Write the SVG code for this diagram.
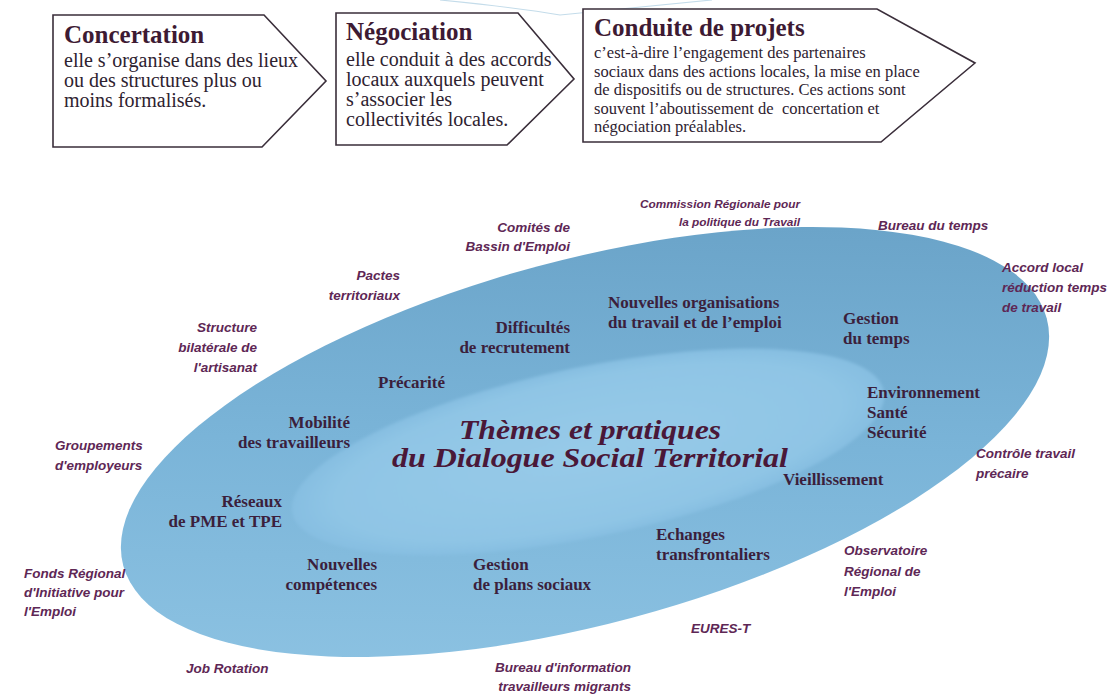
<svg xmlns="http://www.w3.org/2000/svg" width="1116" height="695" viewBox="0 0 1116 695">
<defs>
<style>
.box{fill:#fff;stroke:#3a2e3a;stroke-width:1.6;stroke-linejoin:miter}
.bt{font-family:"Liberation Serif",serif;font-weight:bold;font-size:25px;fill:#3d1a33}
.bb{font-family:"Liberation Serif",serif;font-size:20px;fill:#2e2230}
.bb3{font-family:"Liberation Serif",serif;font-size:16.5px;fill:#2e2230}
.th{font-family:"Liberation Serif",serif;font-weight:bold;font-size:17px;fill:#3b1f3c}
.ex{font-family:"Liberation Sans",sans-serif;font-style:italic;font-weight:bold;font-size:13.5px;fill:#5e2755}
.exs{font-family:"Liberation Sans",sans-serif;font-style:italic;font-weight:bold;font-size:11.8px;fill:#5e2755}
.title{font-family:"Liberation Serif",serif;font-weight:bold;font-style:italic;font-size:28px;fill:#4a1838}
.end{text-anchor:end}
</style>
<linearGradient id="gOuter" x1="0.85" y1="0.1" x2="0.2" y2="0.95">
<stop offset="0" stop-color="#6aa3c8"/>
<stop offset="0.5" stop-color="#7ab4d8"/>
<stop offset="1" stop-color="#8cc2e2"/>
</linearGradient>
<radialGradient id="gInner" cx="0.5" cy="0.5" r="0.5">
<stop offset="0" stop-color="#97cae8"/>
<stop offset="0.85" stop-color="#8fc5e5"/>
<stop offset="1" stop-color="#86bee1"/>
</radialGradient>
<filter id="soft" x="-10%" y="-30%" width="120%" height="160%">
<feGaussianBlur stdDeviation="1.8"/>
</filter>
</defs>
<rect width="1116" height="695" fill="#ffffff"/>
<path d="M 440 0 Q 520 8 560 15 Q 620 9 712 0" fill="none" stroke="#c4dcea" stroke-width="1.2"/>

<g id="ellipses">
<ellipse id="outer" cx="585" cy="442" rx="478" ry="182" transform="rotate(-15 585 442)" fill="url(#gOuter)"/>
<ellipse id="inner" cx="588" cy="452" rx="302" ry="85" transform="rotate(-11.7 588 452)" fill="url(#gInner)" filter="url(#soft)"/>
</g>

<g id="connectors"></g>

<g id="concertation">
<path class="box" d="M53 15 L264 15 L326 81 L262 147 L53 147 Z"/>
<text class="bt" x="64" y="43">Concertation</text>
<text class="bb" x="64" y="67">elle s’organise dans des lieux</text>
<text class="bb" x="64" y="87">ou des structures plus ou</text>
<text class="bb" x="64" y="107">moins formalisés.</text>
</g>

<g id="negociation">
<path class="box" d="M336 13 L518 13 L574 79 L507 145 L336 145 Z"/>
<text class="bt" x="346" y="40">Négociation</text>
<text class="bb" x="346" y="66">elle conduit à des accords</text>
<text class="bb" x="346" y="86">locaux auxquels peuvent</text>
<text class="bb" x="346" y="106">s’associer les</text>
<text class="bb" x="346" y="126">collectivités locales.</text>
</g>

<g id="conduite">
<path class="box" d="M583 9 L877 9 L975 63 L881 142 L583 142 Z"/>
<text class="bt" x="594" y="36">Conduite de projets</text>
<text class="bb3" x="594" y="58">c’est-à-dire l’engagement des partenaires</text>
<text class="bb3" x="594" y="77">sociaux dans des actions locales, la mise en place</text>
<text class="bb3" x="594" y="95">de dispositifs ou de structures. Ces actions sont</text>
<text class="bb3" x="594" y="114" xml:space="preserve">souvent l’aboutissement de  concertation et</text>
<text class="bb3" x="594" y="132">négociation préalables.</text>
</g>

<g id="titre">
<text class="title" x="590" y="439" text-anchor="middle" textLength="262" lengthAdjust="spacingAndGlyphs">Thèmes et pratiques</text>
<text class="title" x="590" y="467" text-anchor="middle" textLength="396" lengthAdjust="spacingAndGlyphs">du Dialogue Social Territorial</text>
</g>

<g id="nouvelles-organisations">
<text class="th" x="608" y="308">Nouvelles organisations</text>
<text class="th" x="608" y="328">du travail et de l’emploi</text>
</g>
<g id="gestion-temps">
<text class="th" x="843" y="324">Gestion</text>
<text class="th" x="843" y="344">du temps</text>
</g>
<g id="environnement">
<text class="th" x="867" y="398">Environnement</text>
<text class="th" x="867" y="418">Santé</text>
<text class="th" x="867" y="438">Sécurité</text>
</g>
<g id="difficultes">
<text class="th end" x="570" y="333">Difficultés</text>
<text class="th end" x="570" y="353">de recrutement</text>
</g>
<g id="precarite">
<text class="th" x="378" y="388">Précarité</text>
</g>
<g id="mobilite">
<text class="th end" x="350" y="428">Mobilité</text>
<text class="th end" x="350" y="448">des travailleurs</text>
</g>
<g id="reseaux">
<text class="th end" x="282" y="507">Réseaux</text>
<text class="th end" x="282" y="527">de PME et TPE</text>
</g>
<g id="nouvelles-competences">
<text class="th end" x="377" y="570">Nouvelles</text>
<text class="th end" x="377" y="590">compétences</text>
</g>
<g id="gestion-plans">
<text class="th" x="473" y="570">Gestion</text>
<text class="th" x="473" y="590">de plans sociaux</text>
</g>
<g id="echanges">
<text class="th" x="656" y="540">Echanges</text>
<text class="th" x="656" y="560">transfrontaliers</text>
</g>
<g id="vieillissement">
<text class="th" x="783" y="485">Vieillissement</text>
</g>

<g id="comites">
<text class="ex end" x="570" y="232">Comités de</text>
<text class="ex end" x="570" y="251">Bassin d'Emploi</text>
</g>
<g id="commission">
<text class="exs end" x="800" y="208">Commission Régionale pour</text>
<text class="exs end" x="800" y="226">la politique du Travail</text>
</g>
<g id="bureau-temps">
<text class="ex" x="878" y="230">Bureau du temps</text>
</g>
<g id="accord">
<text class="ex" x="1002" y="272">Accord local</text>
<text class="ex" x="1002" y="292">réduction temps</text>
<text class="ex" x="1002" y="312">de travail</text>
</g>
<g id="pactes">
<text class="ex end" x="400" y="280">Pactes</text>
<text class="ex end" x="400" y="300">territoriaux</text>
</g>
<g id="structure">
<text class="ex end" x="257" y="332">Structure</text>
<text class="ex end" x="257" y="352">bilatérale de</text>
<text class="ex end" x="257" y="372">l'artisanat</text>
</g>
<g id="groupements">
<text class="ex" x="55" y="450">Groupements</text>
<text class="ex" x="55" y="470">d'employeurs</text>
</g>
<g id="controle">
<text class="ex" x="976" y="458">Contrôle travail</text>
<text class="ex" x="976" y="478">précaire</text>
</g>
<g id="fonds">
<text class="ex" x="24" y="578">Fonds Régional</text>
<text class="ex" x="24" y="597">d'Initiative pour</text>
<text class="ex" x="24" y="616">l'Emploi</text>
</g>
<g id="job-rotation">
<text class="ex" x="186" y="673">Job Rotation</text>
</g>
<g id="bureau-information">
<text class="ex end" x="631" y="672">Bureau d'information</text>
<text class="ex end" x="631" y="691">travailleurs migrants</text>
</g>
<g id="eures">
<text class="ex" x="691" y="633">EURES-T</text>
</g>
<g id="observatoire">
<text class="ex" x="844" y="555">Observatoire</text>
<text class="ex" x="844" y="576">Régional de</text>
<text class="ex" x="844" y="596">l'Emploi</text>
</g>
</svg>
